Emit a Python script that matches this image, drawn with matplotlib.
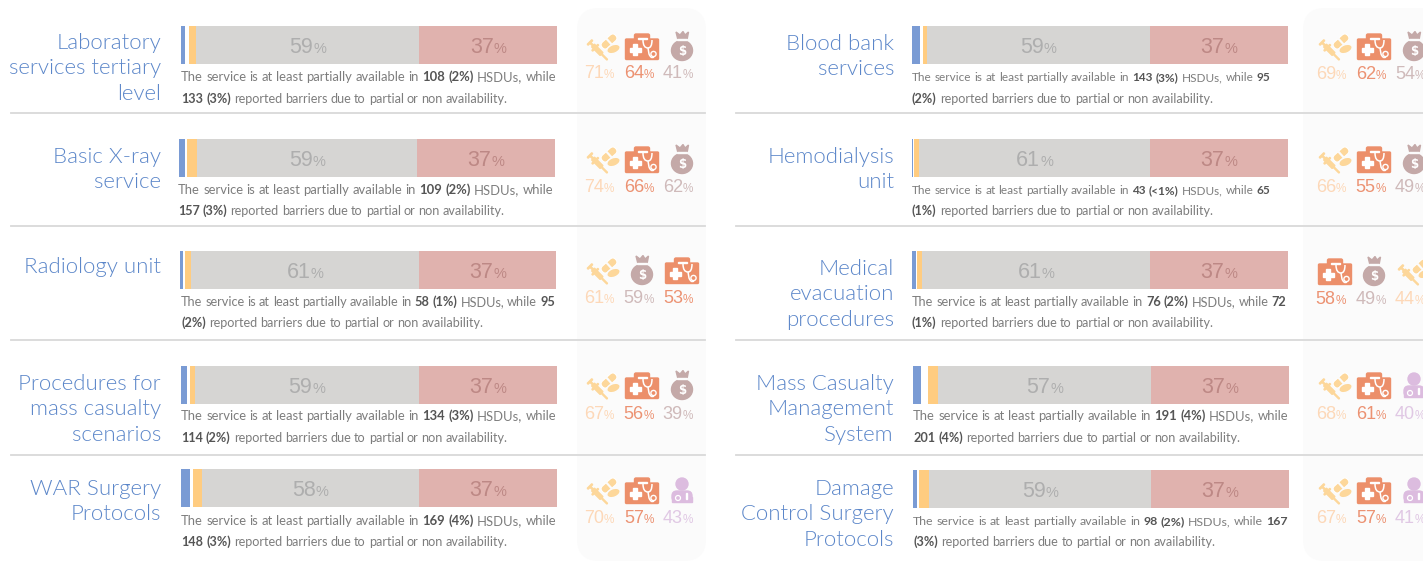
import matplotlib
matplotlib.use("Agg")
import matplotlib.pyplot as plt
from matplotlib.patches import Circle, Ellipse, FancyBboxPatch, PathPatch, Polygon, Rectangle
from matplotlib.path import Path
from matplotlib.transforms import Affine2D

W, H = 1423, 561
BLUE, YELLOW, GREY, RED = "#7a9bd4", "#ffcc80", "#d6d5d3", "#e0b2ae"

titles = [
    ["Laboratory", "services tertiary", "level"],
    ["Basic X-ray", "service"],
    ["Radiology unit"],
    ["Procedures for", "mass casualty", "scenarios"],
    ["WAR Surgery", "Protocols"],
    ["Blood bank", "services"],
    ["Hemodialysis", "unit"],
    ["Medical", "evacuation", "procedures"],
    ["Mass Casualty", "Management", "System"],
    ["Damage", "Control Surgery", "Protocols"],
]

# bar segments in percent of the bar width
blue_pct = [1.1, 1.6, 0.8, 1.6, 2.4, 2.1, 0.3, 1.1, 2.1, 1.1]
gap_pct = [1.1, 0.5, 0.5, 0.8, 0.8, 0.8, 0.3, 0.3, 1.9, 0.5]
yellow_pct = [1.9, 2.7, 1.6, 1.3, 2.4, 1.1, 1.3, 1.3, 2.7, 2.7]
grey_pct = [59.3, 58.5, 60.6, 59.6, 57.7, 59.3, 61.4, 60.6, 56.6, 59.0]
red_pct = [36.7] * 10
grey_labels = [59, 59, 61, 59, 58, 59, 61, 61, 57, 59]
red_labels = [37] * 10

available = ["108 (2%)", "109 (2%)", "58 (1%)", "134 (3%)", "169 (4%)",
             "143 (3%)", "43 (<1%)", "76 (2%)", "191 (4%)", "98 (2%)"]
barriers = ["133 (3%)", "157 (3%)", "95 (2%)", "114 (2%)", "148 (3%)",
            "95 (2%)", "65 (1%)", "72 (1%)", "201 (4%)", "167 (3%)"]
# how many words of the barrier figure stay on the first line
barrier_split = [0, 0, 1, 0, 0, 1, 1, 1, 0, 1]

barrier_icons = [
    ["drug", "kit", "money"], ["drug", "kit", "money"], ["drug", "money", "kit"],
    ["drug", "kit", "money"], ["drug", "kit", "doctor"], ["drug", "kit", "money"],
    ["drug", "kit", "money"], ["kit", "money", "drug"], ["drug", "kit", "doctor"],
    ["drug", "kit", "doctor"],
]
barrier_values = [
    [71, 64, 41], [74, 66, 62], [61, 59, 53], [67, 56, 39], [70, 57, 43],
    [69, 62, 54], [66, 55, 49], [58, 49, 44], [68, 61, 40], [67, 57, 41],
]

# layout, in pixels
bar_x = [181, 179, 180, 181, 181, 912, 912, 912, 913, 913]
bar_y = [26, 139, 251, 366, 469, 26, 139, 251, 366, 470]
title_right = [161] * 5 + [894] * 5
title_base = [49, 163, 273, 390, 495, 50, 163, 275, 390, 495]
cap_x = [181, 178, 181, 181, 181, 912, 912, 912, 913, 913]
cap_base = [[81, 103], [194, 215], [306, 327], [420, 442], [525, 546],
            [81, 103], [194, 215], [306, 327], [420, 442], [525, 546]]
cap_end = [[556, 508], [553, 505], [555, 484], [556, 508], [556, 508],
           [1270, 1214], [1270, 1214], [1286, 1214], [1288, 1241], [1288, 1216]]
icon_y = [47, 160, 271, 386, 491, 47, 160, 272, 386, 491]
pct_base = [78, 192, 303, 419, 523, 79, 192, 304, 419, 523]
rules_y = [113, 226, 340, 455]

ICON_COLORS = {"drug": "#fdd79a", "kit": "#ec8f6a", "money": "#c4a9a8", "doctor": "#dcbcdf"}
PCT_COLORS = {"drug": "#fdd8b8", "kit": "#ec9272", "money": "#cfbaba", "doctor": "#e0c8e4"}

fig = plt.figure(figsize=(W / 100, H / 100), dpi=100, facecolor="white")
ax = fig.add_axes([0, 0, 1, 1], zorder=2)
ax.set_xlim(0, W)
ax.set_ylim(H, 0)
ax.axis("off")
renderer = fig.canvas.get_renderer()


def text_width(t):
    return t.get_window_extent(renderer).width


def draw_number(cx, base, value, color, size, pct_size):
    a = ax.text(0, base, str(value), family="Liberation Sans", fontsize=size, color=color, va="baseline")
    b = ax.text(0, base, "%", family="Liberation Sans", fontsize=pct_size, color=color, va="baseline")
    wa, wb = text_width(a), text_width(b)
    left = cx - (wa + wb) / 2
    a.set_x(left)
    b.set_x(left + wa)


def draw_words(x, end, base, words):
    # shrink the line until the word gaps are wide enough to read
    size = 9.8
    items = []
    for word, bold in words:
        t = ax.text(0, base, word, family="Lato", fontsize=size, va="baseline",
                    fontweight="bold" if bold else "normal", color="#555555" if bold else "#7d7d7d")
        items.append(t)
    while size > 8.5:
        total = sum(text_width(t) for t in items)
        gap = (end - x - total) / max(len(items) - 1, 1)
        if gap >= 3.0:
            break
        size -= 0.1
        for t in items:
            t.set_fontsize(size)
    for t in items:
        t.set_x(x)
        x += text_width(t) + gap


def place(patch, tr):
    patch.set_transform(tr + ax.transData)
    patch.set_clip_on(False)
    ax.add_patch(patch)


def draw_drug(cx, cy):
    c = ICON_COLORS["drug"]
    tr = Affine2D().translate(cx, cy)
    syr = Affine2D().rotate_deg(45).translate(-5, 3.5) + tr
    place(Rectangle((-7, -2), 12, 4, color=c), syr)
    place(Rectangle((5, -0.5), 8, 1, color=c), syr)
    place(Rectangle((-11, -0.6), 4, 1.2, color=c), syr)
    place(Rectangle((-12, -3.2), 1.3, 6.4, color=c), syr)
    place(Rectangle((-4.5, -4.2), 1.2, 8.4, color=c), syr)
    pill = Affine2D().rotate_deg(-42).translate(6, -5.5) + tr
    place(FancyBboxPatch((-9, -4), 18, 8, boxstyle="round,pad=0,rounding_size=3.9",
                         fc=c, ec="white", lw=0.8), pill)
    place(Rectangle((-0.4, -4), 0.8, 8, color="#fbfbfb"), pill)
    place(Ellipse((0, 0), 14, 8.5, fc=c, ec="#fbfbfb", lw=1), Affine2D().rotate_deg(-22).translate(10.5, 2) + tr)


def draw_kit(cx, cy):
    c = ICON_COLORS["kit"]
    tr = Affine2D().translate(cx, cy)
    place(FancyBboxPatch((-16.5, -8), 33, 20.5, boxstyle="round,pad=0,rounding_size=1", color=c), tr)
    place(FancyBboxPatch((-7.5, -13), 15, 6, boxstyle="round,pad=0,rounding_size=1.5", color=c), tr)
    place(Rectangle((-4.5, -9.5), 9, 1.4, color="white"), tr)
    place(Rectangle((-12, 0.5), 10.5, 4, color="white"), tr)
    place(Rectangle((-8.8, -2.8), 4, 10.5, color="white"), tr)
    curve = Path([(1, -7), (1, 1), (6, 1), (7, 7), (9, 12), (12, 10)],
                 [Path.MOVETO, Path.CURVE3, Path.CURVE3, Path.LINETO, Path.CURVE3, Path.CURVE3])
    place(PathPatch(curve, fc="none", ec="white", lw=1.1), tr)
    place(PathPatch(Path([(10, -7), (10, 1), (6, 1)], [Path.MOVETO, Path.CURVE3, Path.CURVE3]),
                    fc="none", ec="white", lw=1.1), tr)
    place(Circle((11.5, 7), 2.6, fc=c, ec="white", lw=1), tr)


def draw_money(cx, cy):
    c = ICON_COLORS["money"]
    tr = Affine2D().translate(cx, cy)
    place(Ellipse((0, 3.5), 21, 20, color=c), tr)
    place(Polygon([(-6, -15), (-2, -12), (1, -15.5), (3, -12), (6.5, -15), (5, -7), (-4, -7)], color=c), tr)
    place(Rectangle((-5, -8.5), 10, 1, color="#fbfbfb"), tr)
    ax.text(cx, cy + 4, "$", family="DejaVu Sans", fontsize=8.5, fontweight="bold",
            color="white", ha="center", va="center")


def draw_doctor(cx, cy):
    c = ICON_COLORS["doctor"]
    tr = Affine2D().translate(cx, cy)
    place(Circle((0, -7), 6, color=c), tr)
    place(FancyBboxPatch((-10, 0), 20, 11, boxstyle="round,pad=0,rounding_size=5", color=c), tr)
    place(Rectangle((-10, 6), 20, 5, color=c), tr)
    place(Ellipse((-4, 7), 5, 5, fc="none", ec="white", lw=0.9), tr)
    place(Rectangle((4, 2), 1, 6, color="white"), tr)


ICONS = {"drug": draw_drug, "kit": draw_kit, "money": draw_money, "doctor": draw_doctor}

# grey panels behind the icons
for x0, x1 in [(577, 706), (1303, 1450)]:
    ax.add_patch(FancyBboxPatch((x0, 8), x1 - x0, 553, boxstyle="round,pad=0,rounding_size=22",
                                fc="#fbfbfb", ec="none", zorder=0))
for y in rules_y:
    ax.plot([11, 705], [y, y], color="#d9d9d9", lw=1.3, zorder=1)
    ax.plot([736, W], [y, y], color="#d9d9d9", lw=1.3, zorder=1)

for i in range(10):
    # bar
    bar_ax = fig.add_axes([bar_x[i] / W, 1 - (bar_y[i] + 38) / H, 376 / W, 38 / H], zorder=1)
    left = 0
    spans = {}
    for name, val, col in [("blue", blue_pct[i], BLUE), ("gap", gap_pct[i], "white"),
                           ("yellow", yellow_pct[i], YELLOW), ("grey", grey_pct[i], GREY),
                           ("red", red_pct[i], RED)]:
        bar_ax.barh(0, val, left=left, height=1, color=col, linewidth=0)
        spans[name] = left + val / 2
        left += val
    bar_ax.set_xlim(0, 100)
    bar_ax.set_ylim(-0.5, 0.5)
    bar_ax.axis("off")
    base = bar_y[i] + 27
    draw_number(bar_x[i] + spans["grey"] * 3.76, base, grey_labels[i], "#aeaeae", 15.5, 10.5)
    draw_number(bar_x[i] + spans["red"] * 3.76, base, red_labels[i], "#bd8885", 15.5, 10.5)

    # title
    for k, line in enumerate(titles[i]):
        ax.text(title_right[i], title_base[i] + k * 25.3, line, family="Lato", fontweight=300,
                fontsize=16, color="#5b86c9", ha="right", va="baseline")

    # caption, bold figures mixed in with the plain words
    first = [(w, False) for w in "The service is at least partially available in".split()]
    first += [(w, True) for w in available[i].split()]
    first += [("HSDUs,", False), ("while", False)]
    bar_words = barriers[i].split()
    n = barrier_split[i]
    first += [(w, True) for w in bar_words[:n]]
    second = [(w, True) for w in bar_words[n:]]
    second += [(w, False) for w in "reported barriers due to partial or non availability.".split()]
    draw_words(cap_x[i], cap_end[i][0], cap_base[i][0], first)
    draw_words(cap_x[i], cap_end[i][1], cap_base[i][1], second)

    # barrier icons
    off = 0 if i < 5 else 732
    for cx, px, kind, val in zip([603, 642, 682], [599, 639, 678], barrier_icons[i], barrier_values[i]):
        ICONS[kind](cx + off, icon_y[i])
        draw_number(px + off, pct_base[i], val, PCT_COLORS[kind], 13, 8.5)

fig.savefig("out.png", dpi=100)
